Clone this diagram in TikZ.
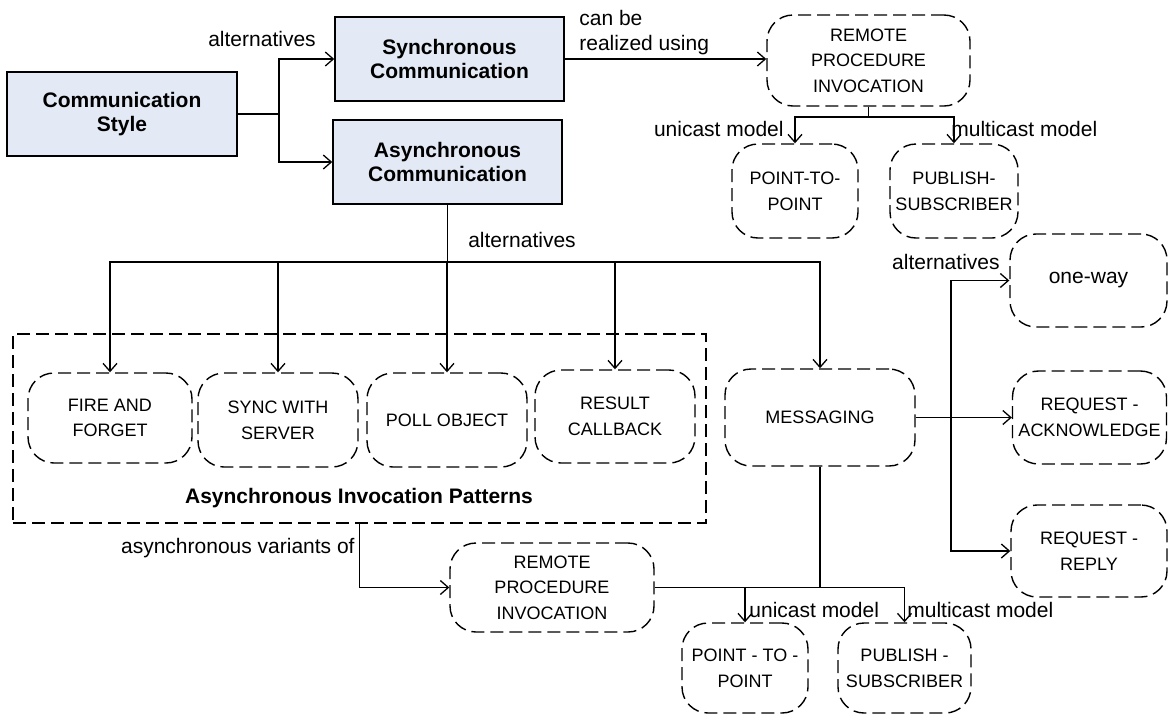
\documentclass[tikz,border=0pt]{standalone}
\usepackage{fontspec}
\setmainfont{Liberation Sans}
\usetikzlibrary{arrows.meta}
\definecolor{boxblue}{RGB}{227,234,245}
\tikzset{
	stylebox/.style={draw, line width=0.75pt, fill=boxblue, inner sep=0pt, align=center, font=\fontsize{10.5}{11.7}\selectfont\bfseries},
	patbox/.style={draw, dash pattern=on 6.5pt off 3pt, line width=0.7pt, rounded corners=13pt, inner sep=0pt, align=center, font=\fontsize{9}{12.8}\selectfont},
	groupbox/.style={draw, dash pattern=on 6.5pt off 3pt, line width=0.7pt, inner sep=0pt},
	lbl/.style={inner sep=0pt, font=\fontsize{10.5}{12.5}\selectfont},
	link/.style={line width=0.65pt},
	arr/.style={line width=0.65pt, -{Straight Barb[length=4pt,width=7pt]}},
}

\begin{document}
\begin{tikzpicture}[x=0.5pt, y=-0.5pt]
			%%%%% START %%%%%
			\useasboundingbox (0,0) rectangle (1168,714);
			
			\node[stylebox, minimum width=115pt, minimum height=42pt] (cstyle) at (122,114) {Communication\\Style};
			\node[stylebox, minimum width=114.5pt, minimum height=42pt] (sync) at (449.5,59) {Synchronous\\Communication};
			\node[stylebox, minimum width=114.5pt, minimum height=42pt] (async) at (447.5,162) {Asynchronous\\Communication};
			
			\node[patbox, minimum width=101.5pt, minimum height=45.5pt] (rpiA) at (868.5,60.5) {REMOTE\\PROCEDURE\\INVOCATION};
			\node[patbox, minimum width=63pt, minimum height=47pt] (ptpA) at (795,191) {POINT-TO-\\POINT};
			\node[patbox, minimum width=64pt, minimum height=47pt] (psA) at (954,191) {PUBLISH-\\SUBSCRIBER};
			
			\node[groupbox, minimum width=346.5pt, minimum height=94.5pt] (aip) at (359.5,428.5) {};
			\node[patbox, minimum width=82pt, minimum height=45pt] (faf) at (110,418) {FIRE AND\\FORGET};
			\node[patbox, minimum width=80pt, minimum height=47pt] (sws) at (278,420) {SYNC WITH\\SERVER};
			\node[patbox, minimum width=80pt, minimum height=47pt] (po) at (447,420) {POLL OBJECT};
			\node[patbox, minimum width=80pt, minimum height=46.5pt] (rc) at (615,416.5) {RESULT\\CALLBACK};
			\node[lbl, font=\fontsize{10.5}{12.5}\selectfont\bfseries] (aiplabel) at (359,498) {Asynchronous Invocation Patterns};
			
			\node[patbox, minimum width=95pt, minimum height=48.5pt] (msg) at (820,417.5) {MESSAGING};
			\node[patbox, minimum width=78.5pt, minimum height=46.5pt, font=\fontsize{10.5}{12.5}\selectfont] (oneway) at (1088.5,280.5) {one-way};
			\node[patbox, minimum width=77pt, minimum height=46.5pt] (reqack) at (1089.5,417.5) {REQUEST -\\ACKNOWLEDGE};
			\node[patbox, minimum width=78pt, minimum height=46pt] (reqrep) at (1089,551) {REQUEST -\\REPLY};
			
			\node[patbox, minimum width=102pt, minimum height=44.5pt] (rpiB) at (552,587.5) {REMOTE\\PROCEDURE\\INVOCATION};
			\node[patbox, minimum width=63pt, minimum height=45pt] (ptpB) at (745,668) {POINT - TO -\\POINT};
			\node[patbox, minimum width=66.5pt, minimum height=45pt] (psB) at (904.5,668) {PUBLISH -\\SUBSCRIBER};
			
			% labels
			\node[lbl] (altA) at (262,39) {alternatives};
			\node[lbl, align=left, anchor=west] (realized) at (579,33) {can be\\realized using};
			\node[lbl, anchor=east] (uniA) at (784,129) {unicast model};
			\node[lbl, anchor=west] (multiA) at (951,129) {multicast model};
			\node[lbl] (altB) at (522,240) {alternatives};
			\node[lbl, anchor=east] (altC) at (1000,262) {alternatives};
			\node[lbl, anchor=east] (variants) at (355,548) {asynchronous variants of};
			\node[lbl, anchor=west] (uniB) at (749,610) {unicast model};
			\node[lbl, anchor=west] (multiB) at (907,610) {multicast model};
			
			% junctions
			\coordinate (jA) at (279,114);
			\coordinate (jB) at (868.5,117);
			\coordinate (jC) at (447.5,262);
			\coordinate (jD) at (951,417.5);
			\coordinate (jF) at (820,587.5);
			
			\draw[link] (cstyle.east) -- (jA);
			\draw[arr] (jA) |- (sync.west);
			\draw[arr] (jA) |- (async.west);
			
			\draw[arr] (sync.east) -- (sync.east -| rpiA.west);
			\draw[link] (rpiA.south) -- (jB);
			\draw[arr] (jB) -| (ptpA.north);
			\draw[arr] (jB) -| (psA.north);
			
			\draw[link] (async.south) -- (jC);
			\draw[arr] (jC) -| (faf.north);
			\draw[arr] (jC) -| (sws.north);
			\draw[arr] (jC) -| (po.north);
			\draw[arr] (jC) -| (rc.north);
			\draw[arr] (jC) -| (msg.north);
			
			\draw[arr] (msg.east) -- (reqack.west);
			\draw[arr] (jD) |- (oneway.west);
			\draw[arr] (jD) |- (reqrep.west);
			
			\draw[arr] (aip.south) |- (rpiB.west);
			\draw[link] (rpiB.east) -- (jF);
			\draw[link] (msg.south) -- (jF);
			\draw[arr] (jF) -| (ptpB.north);
			\draw[arr] (jF) -| (psB.north);
			
			%%%%% END %%%%%
\end{tikzpicture}
\end{document}
